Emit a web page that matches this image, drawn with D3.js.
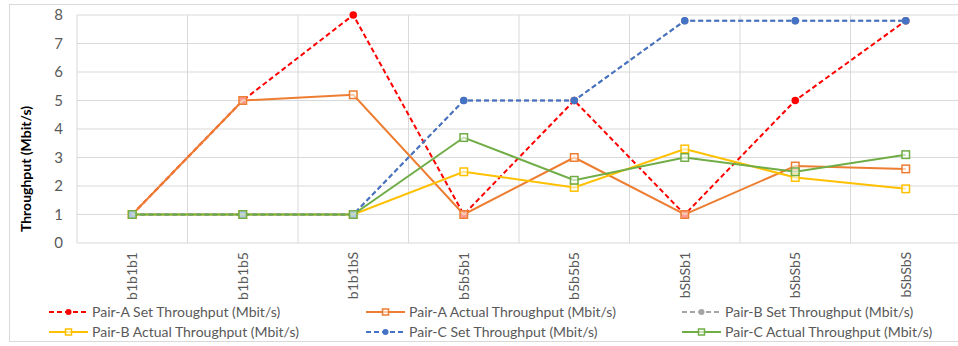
<!DOCTYPE html>
<html><head><meta charset="utf-8">
<script src="https://cdn.jsdelivr.net/npm/d3@7"></script>
<style>body{margin:0;background:#fff}svg{display:block;font-family:Lato,"Open Sans",sans-serif}</style>
</head><body><svg id="c" width="958" height="346"></svg>
<script>
const categories = ["b1b1b1","b1b1b5","b1b1bS","b5b5b1","b5b5b5","bSbSb1","bSbSb5","bSbSbS"];
const pairASet    = [1,5,8,1,5,1,5,7.8];
const pairAActual = [1,5,5.2,1,3,1,2.7,2.6];
const pairBSet    = [1,1,1,5,5,7.8,7.8,7.8];
const pairBActual = [1,1,1,2.5,1.95,3.3,2.3,1.9];
const pairCSet    = [1,1,1,5,5,7.8,7.8,7.8];
const pairCActual = [1,1,1,3.7,2.2,3,2.5,3.1];
const yTicks = [0,1,2,3,4,5,6,7,8];
const series = [
  {name:"Pair-A Set Throughput (Mbit/s)", values:pairASet, color:"#FF0000", dashed:true},
  {name:"Pair-A Actual Throughput (Mbit/s)", values:pairAActual, color:"#ED7D31", dashed:false},
  {name:"Pair-B Set Throughput (Mbit/s)", values:pairBSet, color:"#A5A5A5", dashed:true},
  {name:"Pair-B Actual Throughput (Mbit/s)", values:pairBActual, color:"#FFC000", dashed:false},
  {name:"Pair-C Set Throughput (Mbit/s)", values:pairCSet, color:"#4472C4", dashed:true},
  {name:"Pair-C Actual Throughput (Mbit/s)", values:pairCActual, color:"#70AD47", dashed:false}
];
const FONT = "Lato,'Open Sans',sans-serif";
const svg = d3.select("#c");
svg.append("rect").attr("x",9.5).attr("y",4.5).attr("width",960).attr("height",337)
  .attr("fill","#fff").attr("stroke","#d9d9d9");
const L=77,R=961,T=15,B=243;
const x = d3.scaleBand().domain(categories).range([L,R]).paddingInner(0).paddingOuter(0);
const y = d3.scaleLinear().domain([0,8]).range([B,T]);
const g = svg.append("g");
g.selectAll(".hg").data(yTicks).join("line")
  .attr("x1",L).attr("x2",R).attr("y1",d=>y(d)).attr("y2",d=>y(d))
  .attr("stroke","#d9d9d9").attr("stroke-width",1);
const bounds = categories.map(c=>x(c));
g.selectAll(".vg").data(bounds).join("line")
  .attr("x1",d=>d).attr("x2",d=>d).attr("y1",T).attr("y2",B)
  .attr("stroke","#d9d9d9").attr("stroke-width",1);
const yAxis = d3.axisLeft(y).tickValues(yTicks).tickSize(0).tickPadding(14);
const ya = svg.append("g").attr("transform",`translate(${L},0)`).call(yAxis);
ya.select(".domain").remove();
ya.selectAll("text").attr("font-size",15).attr("fill","#595959").attr("font-family",FONT);
const xAxis = d3.axisBottom(x).tickSize(0).tickPadding(8);
const xa = svg.append("g").attr("transform",`translate(0,${B})`).call(xAxis);
xa.select(".domain").remove();
xa.selectAll("text").attr("font-size",14).attr("fill","#595959").attr("font-family",FONT)
  .attr("transform","rotate(-90)").attr("text-anchor","end").attr("dy","0.35em").attr("x",-9).attr("y",0);
svg.append("text").attr("transform","translate(31,169) rotate(-90)").attr("text-anchor","middle")
  .attr("font-size",14).attr("font-weight","bold").attr("fill","#000").text("Throughput (Mbit/s)");
const line = d3.line().x((d,i)=>x(categories[i])+x.bandwidth()/2).y(d=>y(d));
function drawMarker(sel, s, cx, cy, sz){
  if(s.dashed){
    sel.append("circle").attr("cx",cx).attr("cy",cy).attr("r",sz/2).attr("fill",s.color);
  } else {
    sel.append("rect").attr("x",cx-sz/2).attr("y",cy-sz/2).attr("width",sz).attr("height",sz)
      .attr("fill","#fff").attr("fill-opacity",0.6).attr("stroke",s.color).attr("stroke-width",1.5);
  }
}
series.forEach(s=>{
  const sg = svg.append("g");
  sg.append("path").datum(s.values).attr("d",line).attr("fill","none").attr("stroke",s.color)
    .attr("stroke-width",2).attr("stroke-dasharray",s.dashed?"5,3":null);
  s.values.forEach((v,i)=>drawMarker(sg,s,x(categories[i])+x.bandwidth()/2,y(v),7.5));
});
const legCols=[49,366,682], legRows=[312,332];
series.forEach((s,i)=>{
  const col=i%3,row=Math.floor(i/3);
  const lg = svg.append("g").attr("transform",`translate(${legCols[col]},${legRows[row]})`);
  lg.append("line").attr("x1",0).attr("x2",39).attr("y1",0).attr("y2",0).attr("stroke",s.color)
    .attr("stroke-width",2).attr("stroke-dasharray",s.dashed?"5,3":null);
  drawMarker(lg,s,19.5,0,6);
  lg.append("text").attr("x",43).attr("y",0).attr("dy","0.35em").attr("font-size",14).attr("fill","#595959").text(s.name);
});
</script></body></html>
